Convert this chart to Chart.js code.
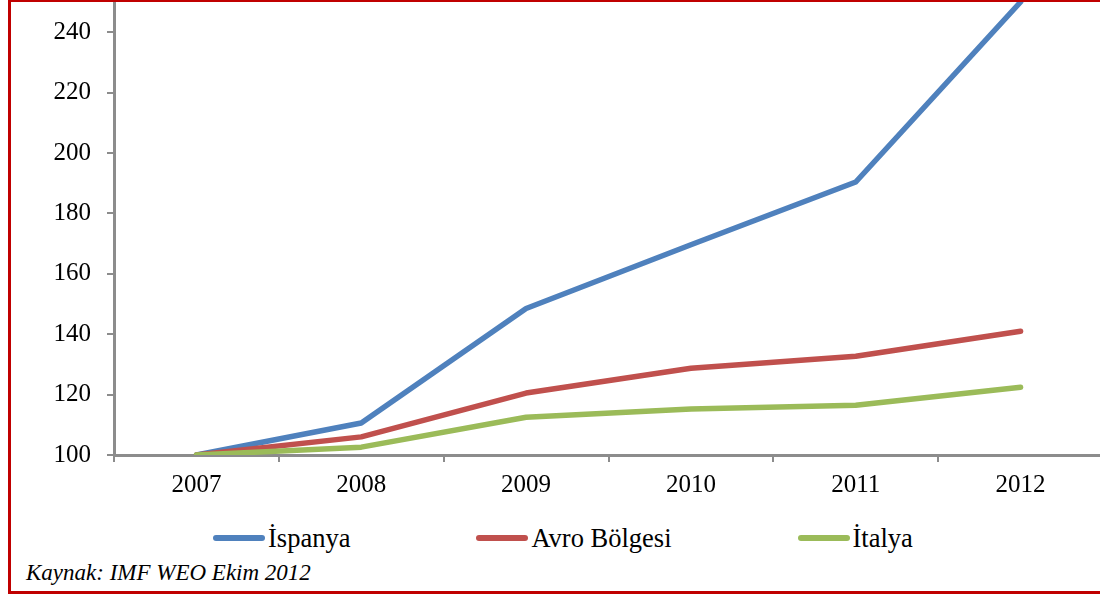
<!DOCTYPE html>
<html>
<head>
<meta charset="utf-8">
<script src="https://cdn.jsdelivr.net/npm/chart.js@4/dist/chart.umd.min.js"></script>
<style>
  html, body { margin: 0; padding: 0; background: #fff; overflow: hidden; width: 1100px; height: 596px; }
  #wrap { position: absolute; left: 0; top: -29px; width: 1110px; height: 534px; }
  #frame { position: absolute; left: 8px; top: -1px; width: 1200px; height: 589px; border: 3px solid #c00000; pointer-events: none; }
  #legend { position: absolute; left: 213px; top: 525px; display: flex; gap: 126px; font: 26.5px/26px 'Liberation Serif', 'Times New Roman', serif; color: #000; white-space: nowrap; }
  #legend .item { position: relative; padding-left: 55px; }
  #legend .swatch { position: absolute; left: 0; top: 10px; width: 52px; height: 5.5px; border-radius: 3px; }
  #source { position: absolute; left: 26px; top: 561px; font: italic 23px/23px 'Liberation Serif', 'Times New Roman', serif; color: #000; white-space: nowrap; }
</style>
</head>
<body>
<div id="wrap"><canvas id="debtChart" width="1110" height="534"></canvas></div>
<div id="legend"></div>
<div id="source">Kaynak: IMF WEO Ekim 2012</div>
<div id="frame"></div>
<script>
// debt index, 2007 = 100
const years = ["2007", "2008", "2009", "2010", "2011", "2012"];
const ispanya = [100, 110.6, 148.5, 169.6, 190.4, 250];
const avroBolgesi = [100, 106, 120.5, 128.7, 132.7, 141];
const italya = [100, 102.6, 112.5, 115.2, 116.5, 122.4];
const yTicks = [100, 120, 140, 160, 180, 200, 220, 240];

document.addEventListener("DOMContentLoaded", () => {
  Chart.defaults.font.family = "'Liberation Serif', 'Times New Roman', serif";
  Chart.defaults.color = "#000";

  const axisGray = "#8c8c8c";

  const line = (label, data, color, order) => ({
    label,
    data,
    borderColor: color,
    backgroundColor: color,
    borderWidth: 5.5,
    borderCapStyle: "round",
    borderJoinStyle: "round",
    pointRadius: 0,
    tension: 0,
    fill: false,
    order
  });

  const chart = new Chart(document.getElementById("debtChart"), {
    type: "line",
    data: {
      labels: years,
      datasets: [
        line("İspanya", ispanya, "#4f81bd", 3),
        line("Avro Bölgesi", avroBolgesi, "#c0504d", 2),
        line("İtalya", italya, "#9bbb59", 1)
      ]
    },
    options: {
      responsive: false,
      animation: false,
      layout: { padding: { left: 0, right: 7, top: 0, bottom: 0 } },
      plugins: {
        legend: { display: false },
        tooltip: { enabled: false }
      },
      scales: {
        x: {
          offset: true,
          grid: {
            offset: true,
            drawOnChartArea: false,
            drawTicks: true,
            tickLength: 7,
            color: axisGray,
            lineWidth: 2
          },
          border: { color: axisGray, width: 3 },
          ticks: { font: { size: 25 }, padding: 8, maxRotation: 0 },
          afterFit: s => { s.height = 50; }
        },
        y: {
          min: 100,
          max: 250,
          grid: {
            drawOnChartArea: false,
            drawTicks: true,
            tickLength: 7,
            color: axisGray,
            lineWidth: 2
          },
          border: { color: axisGray, width: 3 },
          ticks: { font: { size: 25 }, padding: 16 },
          afterBuildTicks: s => { s.ticks = yTicks.map(v => ({ value: v })); },
          afterFit: s => { s.width = 114; }
        }
      }
    }
  });

  // legend built from the chart's own legend labels, in dataset order
  const legend = document.getElementById("legend");
  const items = chart.options.plugins.legend.labels.generateLabels(chart)
    .sort((a, b) => a.datasetIndex - b.datasetIndex);
  items.forEach(item => {
    legend.innerHTML += `<span class="item"><span class="swatch" style="background:${item.strokeStyle}"></span>${item.text}</span>`;
  });
});
</script>
</body>
</html>
